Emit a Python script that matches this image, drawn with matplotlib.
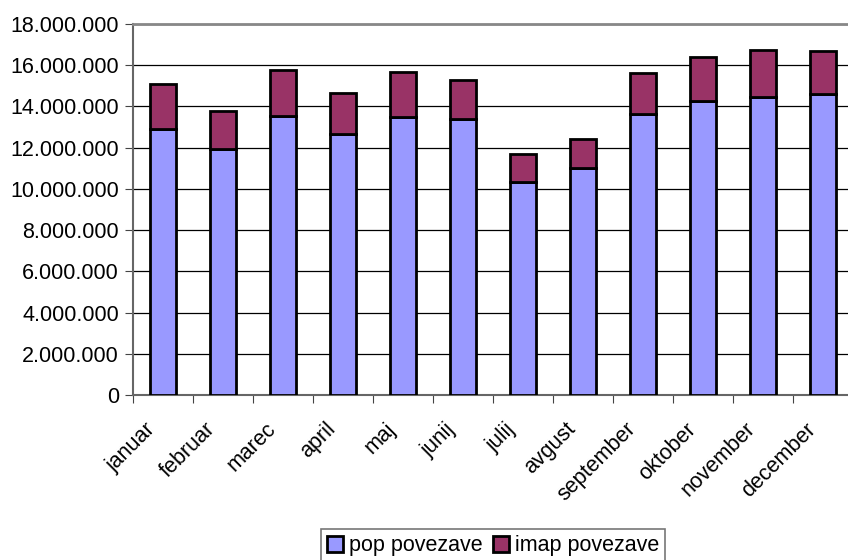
import matplotlib.pyplot as plt
import matplotlib.ticker as mticker
import numpy as np

# podatki
meseci = ['januar', 'februar', 'marec', 'april', 'maj', 'junij',
          'julij', 'avgust', 'september', 'oktober', 'november', 'december']
pop = [12920000, 11920000, 13530000, 12640000, 13500000, 13370000,
       10330000, 11000000, 13640000, 14240000, 14480000, 14580000]
imap = [2160000, 1850000, 2260000, 2020000, 2150000, 1920000,
        1350000, 1430000, 1960000, 2160000, 2280000, 2100000]

plt.rcParams['font.family'] = ['Liberation Sans', 'DejaVu Sans']
plt.rcParams['font.size'] = 15.5

fig = plt.figure(figsize=(8.48, 5.6), dpi=100)
W, H = 848, 560
ax = fig.add_axes([133 / W, 1 - 395 / H, 720 / W, (395 - 24) / H])

x = np.arange(len(meseci))
ax.bar(x, pop, width=0.42, color='#9999FF', edgecolor='black', linewidth=2,
       label='pop povezave', zorder=3)
ax.bar(x, imap, bottom=pop, width=0.42, color='#993366', edgecolor='black',
       linewidth=2, label='imap povezave', zorder=3)

ax.set_xlim(-0.5, len(meseci) - 0.5)
ax.set_ylim(0, 18000000)
ax.yaxis.set_major_locator(mticker.MultipleLocator(2000000))
ax.yaxis.set_major_formatter(mticker.FuncFormatter(
    lambda v, p: f'{int(v):,}'.replace(',', '.')))
ax.grid(axis='y', color='black', linewidth=0.9, zorder=0)

# tick marks at category boundaries
ax.set_xticks(np.arange(-0.5, len(meseci), 1.0))
ax.set_xticklabels([])
ax.tick_params(axis='x', which='major', direction='out', length=6, color='#444444')
ax.tick_params(axis='y', direction='out', length=6, color='#444444', pad=4)
for xi, name in zip(x, meseci):
    ax.text(xi - 0.3, -1150000, name, rotation=45, ha='right', va='top',
            rotation_mode='anchor')

for s in ['top', 'right']:
    ax.spines[s].set_color('#888888')
    ax.spines[s].set_linewidth(2)
ax.spines['left'].set_color('#666666')
ax.spines['left'].set_linewidth(1.5)
ax.spines['bottom'].set_color('#666666')
ax.spines['bottom'].set_linewidth(1.5)

leg = fig.legend(loc='upper center', bbox_to_anchor=(493 / W, 1 - 529 / H),
                 ncol=2, frameon=True, fancybox=False, edgecolor='#555555',
                 handlelength=0.75, handleheight=0.75, handletextpad=0.25,
                 columnspacing=0.5, borderpad=0.3, borderaxespad=0)
leg.get_frame().set_linewidth(1.2)

fig.savefig('out.png', dpi=100)
